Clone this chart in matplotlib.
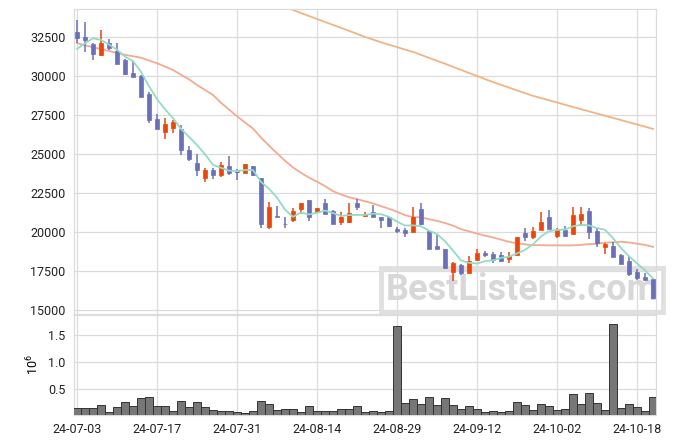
import numpy as np
import pandas as pd
import matplotlib.pyplot as plt
from matplotlib.patches import Rectangle

plt.rcParams['font.family'] = ['Roboto', 'DejaVu Sans']
plt.rcParams['font.size'] = 9
plt.rcParams['mathtext.fontset'] = 'custom'
plt.rcParams['mathtext.rm'] = 'Roboto'
plt.rcParams['mathtext.it'] = 'Roboto'

# trading days (KRX, holidays removed)
holidays = ['2024-08-15', '2024-09-16', '2024-09-17', '2024-09-18',
            '2024-10-01', '2024-10-03', '2024-10-09']
dates = pd.bdate_range('2024-07-03', '2024-10-22')
dates = dates[~dates.isin(pd.to_datetime(holidays))]

opens = [32850, 32500, 32050, 31350, 32150, 31600, 31050, 30200, 30000, 28850,
         27250, 26450, 26700, 26650, 25250, 24450, 23450, 24000, 23650, 24250,
         23900, 23800, 24250, 23500, 20350, 21050, 20550, 20800, 21500, 22050,
         21300, 21900, 21350, 20650, 20650, 21850, 21050, 21300, 20950, 20950,
         20200, 20150, 20000, 21500, 20050, 19150, 18910, 17480, 17880, 17370,
         18220, 18700, 18590, 18530, 18290, 18550, 19960, 19680, 20150, 20950,
         19750, 20150, 19900, 20800, 21350, 20100, 19080, 19120, 18550, 18160,
         17460, 17140, 16990]
highs = [33600, 33450, 32100, 32950, 32400, 32100, 31100, 30950, 30100, 29000,
         27600, 27300, 27200, 26900, 25500, 25000, 24150, 24150, 24500, 24900,
         24050, 24400, 24250, 23500, 21950, 21700, 20950, 21550, 21900, 22050,
         21550, 22150, 21400, 21300, 21850, 22150, 21300, 21750, 20950, 20950,
         20350, 20250, 21600, 21900, 20050, 19830, 18910, 18100, 17950, 18480,
         18950, 18820, 18760, 18720, 18720, 19720, 20300, 20350, 21300, 21450,
         20250, 20400, 21600, 21650, 21550, 20250, 19330, 19400, 18590, 18480,
         17650, 17390, 17050]
lows = [32100, 31550, 31050, 31300, 31650, 30800, 30100, 29950, 28700, 27000,
        26600, 26000, 26350, 24950, 24550, 23600, 23200, 23400, 23550, 23700,
        23350, 23800, 23600, 20250, 20200, 20950, 20250, 20650, 21200, 20750,
        21280, 21150, 20500, 20450, 20600, 21400, 20950, 20950, 20300, 20350,
        19950, 19680, 20000, 20450, 18950, 18930, 17730, 16880, 17260, 17370,
        18220, 18400, 18010, 18080, 18010, 18550, 19440, 19570, 20150, 20200,
        19650, 19700, 19900, 20400, 19550, 19080, 18630, 18420, 17950, 17220,
        16960, 16960, 15740]
closes = [32450, 32350, 31400, 32150, 31800, 30800, 30150, 29950, 28700, 27200,
          26650, 26950, 27050, 25250, 24700, 24000, 24000, 23650, 24300, 23800,
          23850, 24350, 23650, 20500, 21600, 21000, 20500, 21350, 21900, 20950,
          21550, 21200, 20550, 20950, 21250, 21600, 21200, 20950, 20800, 20400,
          20050, 19970, 21000, 20550, 18950, 18930, 17730, 18010, 17370, 18160,
          18670, 18560, 18220, 18180, 18500, 19720, 19720, 20050, 20650, 20200,
          20150, 19780, 21100, 21150, 20000, 19300, 19230, 18420, 17990, 17350,
          17070, 16960, 15810]
volumes = [0.155, 0.155, 0.155, 0.209, 0.082, 0.173, 0.264, 0.191, 0.336, 0.355,
           0.191, 0.191, 0.100, 0.282, 0.173, 0.264, 0.173, 0.118, 0.100, 0.100,
           0.082, 0.064, 0.100, 0.282, 0.227, 0.118, 0.136, 0.136, 0.082, 0.191,
           0.100, 0.100, 0.100, 0.136, 0.136, 0.191, 0.082, 0.100, 0.082, 0.100,
           1.664, 0.245, 0.318, 0.227, 0.355, 0.209, 0.336, 0.209, 0.136, 0.191,
           0.136, 0.082, 0.100, 0.082, 0.100, 0.264, 0.209, 0.118, 0.227, 0.191,
           0.118, 0.136, 0.409, 0.227, 0.427, 0.245, 0.118, 1.700, 0.155, 0.227,
           0.173, 0.100, 0.355]

# moving averages as drawn
ma5 = [31750, 32110, 32430, 32330, 32030, 31700, 31260, 30970, 30280, 29360,
       28530, 27890, 27310, 26620, 26120, 25590, 25000, 24320, 24130, 23950,
       23920, 23990, 23990, 23230, 22790, 22220, 21450, 20990, 21270, 21140,
       21250, 21390, 21230, 21040, 21100, 21110, 21110, 21190, 21160, 20990,
       20680, 20430, 20440, 20390, 20100, 19880, 19430, 18830, 18200, 18040,
       17990, 18150, 18200, 18360, 18430, 18640, 18870, 19230, 19730, 20070,
       20150, 20170, 20380, 20480, 20440, 20270, 20160, 19620, 18990, 18460,
       18010, 17560, 17040]
ma20 = [32120, 31990, 31860, 31740, 31620, 31490, 31370, 31280, 31190, 31010,
        30830, 30620, 30400, 30100, 29800, 29440, 29120, 28800, 28300, 27865,
        27435, 27035, 26648, 26065, 25555, 25065, 24583, 24153, 23813, 23500,
        23245, 22958, 22633, 22418, 22245, 22125, 21985, 21850, 21675, 21505,
        21315, 21096, 20964, 20966, 20834, 20730, 20592, 20425, 20198, 20059,
        19915, 19783, 19666, 19528, 19390, 19296, 19222, 19177, 19170, 19160,
        19165, 19155, 19160, 19190, 19243, 19261, 19336, 19357, 19388, 19347,
        19267, 19187, 19067]
ma_long_start = 25
ma_long = [34800, 34440, 34250, 34050, 33860, 33670, 33480, 33290, 33100, 32910,
           32720, 32520, 32350, 32180, 32020, 31870, 31710, 31560, 31370, 31180,
           30990, 30800, 30600, 30410, 30210, 30020, 29820, 29630, 29450, 29270,
           29090, 28920, 28740, 28600, 28460, 28320, 28170, 28030, 27890, 27750,
           27610, 27470, 27330, 27190, 27050, 26910, 26770, 26620]

tick_pos = list(range(0, 71, 10))

UP = '#e8450f'
DOWN = '#6b6fb5'
GRID = '#dcdcdc'

fig = plt.figure(figsize=(6.75, 4.44), dpi=100)
W, H = 675, 444
ax = fig.add_axes([74 / W, (H - 314) / H, 582 / W, 305 / H])
axv = fig.add_axes([74 / W, (H - 415) / H, 582 / W, 100 / H], sharex=ax)

x = np.arange(len(closes))
for i in x:
    o, h, l, c = opens[i], highs[i], lows[i], closes[i]
    col = UP if c >= o else DOWN
    ax.vlines(i, l, h, color=col, linewidth=1.1, zorder=3)
    bottom = min(o, c)
    height = max(abs(c - o), 40)
    ax.add_patch(Rectangle((i - 0.3, bottom), 0.6, height, facecolor=col,
                           edgecolor=col, linewidth=0.5, zorder=4))

ax.plot(x, ma5, color='#93dcc3', linewidth=1.3, zorder=5)
ax.plot(x, ma20, color='#f2ab90', linewidth=1.3, zorder=2)
ax.plot(x[ma_long_start:], ma_long, color='#f0b584', linewidth=1.3, zorder=2)

ax.set_xlim(-0.375, len(closes) - 1 + 0.375)
ax.set_ylim(14760, 34310)
ax.set_yticks([15000, 17500, 20000, 22500, 25000, 27500, 30000, 32500])
ax.set_xticks(tick_pos)
ax.tick_params(axis='x', labelbottom=False, length=0)
ax.tick_params(axis='y', length=0, pad=6, labelcolor='#222222')
ax.grid(True, color=GRID, linewidth=0.9)
ax.set_axisbelow(True)

axv.bar(x, volumes, width=1.0, color='#777777', edgecolor='#333333',
        linewidth=0.7, zorder=3)
axv.set_ylim(0.03, 1.87)
axv.set_yticks([0.5, 1.0, 1.5])
axv.set_yticklabels(['0.5', '1.0', '1.5'])
axv.set_xticks(tick_pos)
axv.set_xticklabels([dates[i].strftime('%y-%m-%d') for i in tick_pos])
axv.tick_params(length=0, labelcolor='#222222')
axv.tick_params(axis='x', pad=6)
axv.tick_params(axis='y', pad=6)
axv.set_ylabel(r'$10^6$', fontsize=9, labelpad=5)
axv.grid(True, color=GRID, linewidth=0.9)
axv.set_axisbelow(True)

for a in (ax, axv):
    for s in a.spines.values():
        s.set_color(GRID)
        s.set_linewidth(0.9)

# watermark, behind the candles
ax.text(522 / 582 - 74 / 582, 1 - (290 - 9) / 305, 'BestListens.com',
        transform=ax.transAxes, fontsize=26, fontweight='bold',
        color='#d8d8d8', ha='center', va='center', zorder=1, clip_on=False,
        bbox=dict(boxstyle='square,pad=0.12', facecolor='none',
                  edgecolor='#e0e0e0', linewidth=3.5))

fig.savefig('out.png', dpi=100)
